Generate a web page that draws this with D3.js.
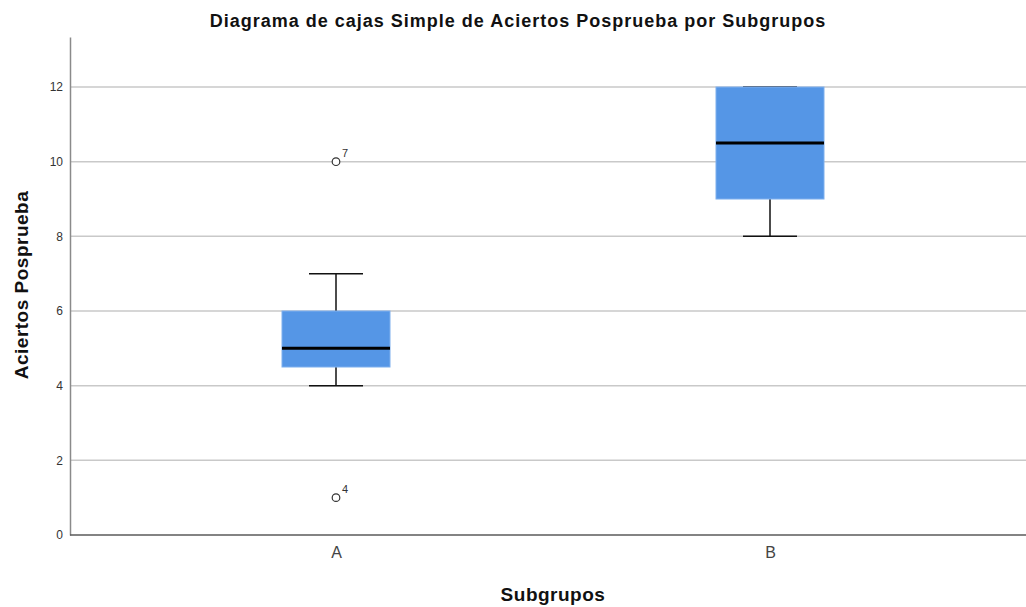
<!DOCTYPE html>
<html>
<head>
<meta charset="utf-8">
<script src="https://cdn.jsdelivr.net/npm/d3@7"></script>
<style>
  body { margin: 0; background: #fff; }
  svg { display: block; font-family: "Liberation Sans", Arial, sans-serif; }
</style>
</head>
<body>
<svg id="chart" width="1026" height="607"></svg>
<script>
// Box plot summary per subgroup
const groups = ["A", "B"];
const q1 = [4.5, 9];
const median = [5, 10.5];
const q3 = [6, 12];
const whiskerLow = [4, 8];
const whiskerHigh = [7, 12];
// Outliers: group, value, case label
const outlierGroup = ["A", "A"];
const outlierValue = [10, 1];
const outlierCase = ["7", "4"];
const yTicks = [0, 2, 4, 6, 8, 10, 12];

const svg = d3.select("#chart");
const W = 1026, H = 607;
const m = { top: 37, right: 0, bottom: 72, left: 70 };

const y = d3.scaleLinear().domain([0, 13.34]).range([H - m.bottom, m.top]);
const x = d3.scalePoint().domain(groups).range([336, 770]);

// gridlines
svg.append("g").selectAll("line").data(yTicks.filter(d => d > 0)).join("line")
  .attr("x1", m.left).attr("x2", W)
  .attr("y1", d => y(d)).attr("y2", d => y(d))
  .attr("stroke", "#c9c9c9").attr("stroke-width", 1.5);

// y axis
const yAxis = svg.append("g").attr("transform", `translate(${m.left},0)`)
  .call(d3.axisLeft(y).tickValues(yTicks).tickSize(0).tickPadding(7));
yAxis.select(".domain").attr("stroke", "#8a8a8a").attr("stroke-width", 1.5);
yAxis.selectAll("text").attr("font-size", 12).attr("fill", "#333")
  .attr("font-family", "Liberation Sans, Arial, sans-serif");

// x axis
const xAxis = svg.append("g").attr("transform", `translate(0,${y(0)})`)
  .call(d3.axisBottom(x).tickSize(0).tickPadding(12));
xAxis.select(".domain").remove();
xAxis.selectAll("text").attr("font-size", 16).attr("fill", "#444")
  .attr("font-family", "Liberation Sans, Arial, sans-serif");
svg.append("line")
  .attr("x1", m.left).attr("x2", W).attr("y1", y(0)).attr("y2", y(0))
  .attr("stroke", "#5a5a5a").attr("stroke-width", 1.5);

const boxW = 108, capW = 54;
const rows = groups.map((g, i) => ({ g, q1: q1[i], med: median[i], q3: q3[i], lo: whiskerLow[i], hi: whiskerHigh[i] }));
const bx = svg.append("g").selectAll("g").data(rows).join("g");

// whiskers
bx.append("line").attr("x1", d => x(d.g)).attr("x2", d => x(d.g))
  .attr("y1", d => y(d.hi)).attr("y2", d => y(d.q3)).attr("stroke", "#111").attr("stroke-width", 1.5);
bx.append("line").attr("x1", d => x(d.g)).attr("x2", d => x(d.g))
  .attr("y1", d => y(d.q1)).attr("y2", d => y(d.lo)).attr("stroke", "#111").attr("stroke-width", 1.5);
bx.append("line").attr("x1", d => x(d.g) - capW / 2).attr("x2", d => x(d.g) + capW / 2)
  .attr("y1", d => y(d.hi)).attr("y2", d => y(d.hi)).attr("stroke", "#111").attr("stroke-width", 1.5);
bx.append("line").attr("x1", d => x(d.g) - capW / 2).attr("x2", d => x(d.g) + capW / 2)
  .attr("y1", d => y(d.lo)).attr("y2", d => y(d.lo)).attr("stroke", "#111").attr("stroke-width", 1.5);

// boxes
bx.append("rect")
  .attr("x", d => x(d.g) - boxW / 2).attr("width", boxW)
  .attr("y", d => y(d.q3)).attr("height", d => y(d.q1) - y(d.q3))
  .attr("fill", "#5596e6").attr("stroke", "#7fb0ee").attr("stroke-width", 1);

// medians
bx.append("line").attr("x1", d => x(d.g) - boxW / 2).attr("x2", d => x(d.g) + boxW / 2)
  .attr("y1", d => y(d.med)).attr("y2", d => y(d.med)).attr("stroke", "#000").attr("stroke-width", 3);

// outliers with case labels
const outs = outlierGroup.map((g, i) => ({ g, v: outlierValue[i], c: outlierCase[i] }));
svg.append("g").selectAll("circle").data(outs).join("circle")
  .attr("cx", d => x(d.g)).attr("cy", d => y(d.v)).attr("r", 3.8)
  .attr("fill", "#fff").attr("stroke", "#333").attr("stroke-width", 1.2);
svg.append("g").selectAll("text").data(outs).join("text")
  .attr("x", d => x(d.g) + 6).attr("y", d => y(d.v) - 5)
  .attr("font-size", 11).attr("fill", "#333").text(d => d.c);

// titles
svg.append("text").attr("x", 518).attr("y", 27).attr("text-anchor", "middle")
  .attr("font-size", 18).attr("font-weight", "bold").attr("fill", "#111")
  .attr("letter-spacing", 1)
  .text("Diagrama de cajas Simple de Aciertos Posprueba por Subgrupos");
svg.append("text").attr("x", 553).attr("y", 601).attr("text-anchor", "middle")
  .attr("font-size", 19).attr("font-weight", "bold").attr("fill", "#111")
  .attr("letter-spacing", 0.5)
  .text("Subgrupos");
svg.append("text").attr("transform", `translate(28,285) rotate(-90)`).attr("text-anchor", "middle")
  .attr("font-size", 19).attr("font-weight", "bold").attr("fill", "#111")
  .attr("letter-spacing", 0.5)
  .text("Aciertos Posprueba");
</script>
</body>
</html>
